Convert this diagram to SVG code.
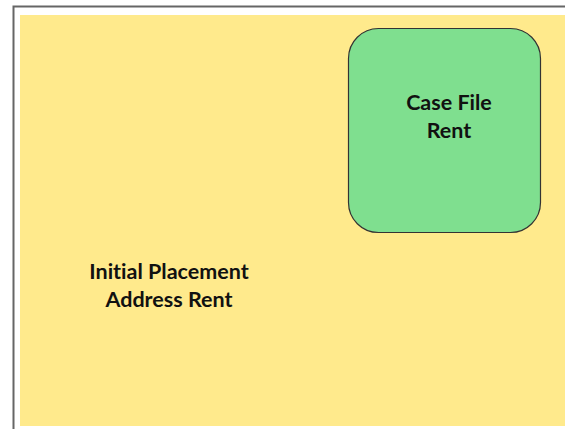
<svg xmlns="http://www.w3.org/2000/svg" width="565" height="429" viewBox="0 0 565 429">
  <style>
    .label { font-family: Lato, "Open Sans", "Liberation Sans", sans-serif; font-weight: bold; font-size: 21.5px; fill: #111; text-anchor: middle; font-variant-ligatures: none; }
  </style>
  <rect width="565" height="429" fill="#ffffff"/>
  <!-- outer frame -->
  <path d="M13.5 429 V6.5 H565" fill="none" stroke="#666" stroke-width="2"/>
  <g id="initial-placement">
    <rect x="20" y="15" width="545" height="411" fill="#ffea8c"/>
    <text class="label" x="169" y="279">Initial Placement</text>
    <text class="label" x="169" y="307">Address Rent</text>
  </g>
  <g id="case-file">
    <rect x="348.5" y="28.5" width="192" height="204" rx="30" fill="#7fdf8f" stroke="#333" stroke-width="1.2"/>
    <text class="label" x="449" y="110">Case File</text>
    <text class="label" x="449" y="138">Rent</text>
  </g>
  <g id="connectors"/>
</svg>
